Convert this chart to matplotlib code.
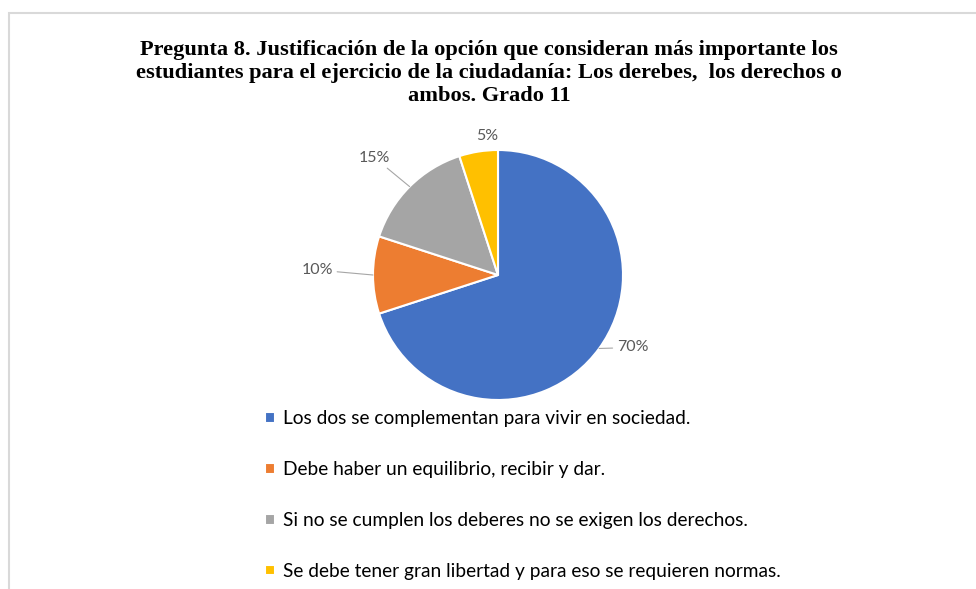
# Pregunta 8 - pie chart, Grado 11
import matplotlib.pyplot as plt
import numpy as np
from matplotlib.patches import Rectangle

categorias = ['Los dos se complementan para vivir en sociedad.',
              'Debe haber un equilibrio, recibir y dar.',
              'Si no se cumplen los deberes no se exigen los derechos.',
              'Se debe tener gran libertad y para eso se requieren normas.']
porcentajes = [70, 10, 15, 5]
colores = ['#4472C4', '#ED7D31', '#A5A5A5', '#FFC000']

titulo = ('Pregunta 8. Justificación de la opción que consideran más importante los\n'
          'estudiantes para el ejercicio de la ciudadanía: Los derebes,  los derechos o\n'
          'ambos. Grado 11')

W, H = 976, 589
fig = plt.figure(figsize=(W / 100, H / 100), dpi=100)

# light frame (top and left edges visible)
fig.add_artist(Rectangle((9 / W, -0.2), 1.5, 1.2 - 13 / H, transform=fig.transFigure,
                         fill=False, edgecolor='#D9D9D9', linewidth=1.5))

fig.text(489 / W, 1 - 40 / H, titulo, ha='center', va='top', fontsize=16.1,
         fontweight='bold', family='Liberation Serif', linespacing=1.2)

cx, cy, r = 498, 275, 125
ax = fig.add_axes([(cx - r) / W, 1 - (cy + r) / H, 2 * r / W, 2 * r / H])
wedges, _ = ax.pie(porcentajes, colors=colores, startangle=90, counterclock=False,
                   wedgeprops=dict(edgecolor='white', linewidth=1.5))
ax.set_xlim(-1, 1)
ax.set_ylim(-1, 1)
ax.set_aspect('equal')
ax.axis('off')

# label positions (radius units) and alignment
pos = [(0.95, -0.58, 'left'), (-1.32, 0.04, 'right'), (-0.864, 0.94, 'right'), (-0.088, 1.11, 'center')]
for w, p, (tx, ty, ha) in zip(wedges, porcentajes, pos):
    ang = np.deg2rad((w.theta1 + w.theta2) / 2)
    xy = (np.cos(ang), np.sin(ang))
    arrow = None if p == 5 else dict(arrowstyle='-', color='#A6A6A6', lw=0.8,
                                     shrinkA=1, shrinkB=0)
    ax.annotate(f'{p}%', xy=xy, xytext=(tx, ty), ha=ha, va='center',
                fontsize=11.5, color='#595959', family='Lato',
                arrowprops=arrow, annotation_clip=False)

fig.legend(wedges, categorias, loc='upper left', bbox_to_anchor=(265 / W, 1 - 410 / H),
           frameon=False, labelspacing=1.77, handlelength=0.5,
           handleheight=0.5, handletextpad=0.42, borderpad=0, borderaxespad=0,
           prop=dict(family='Lato', size=13.8))

fig.savefig('out.png', dpi=100)
